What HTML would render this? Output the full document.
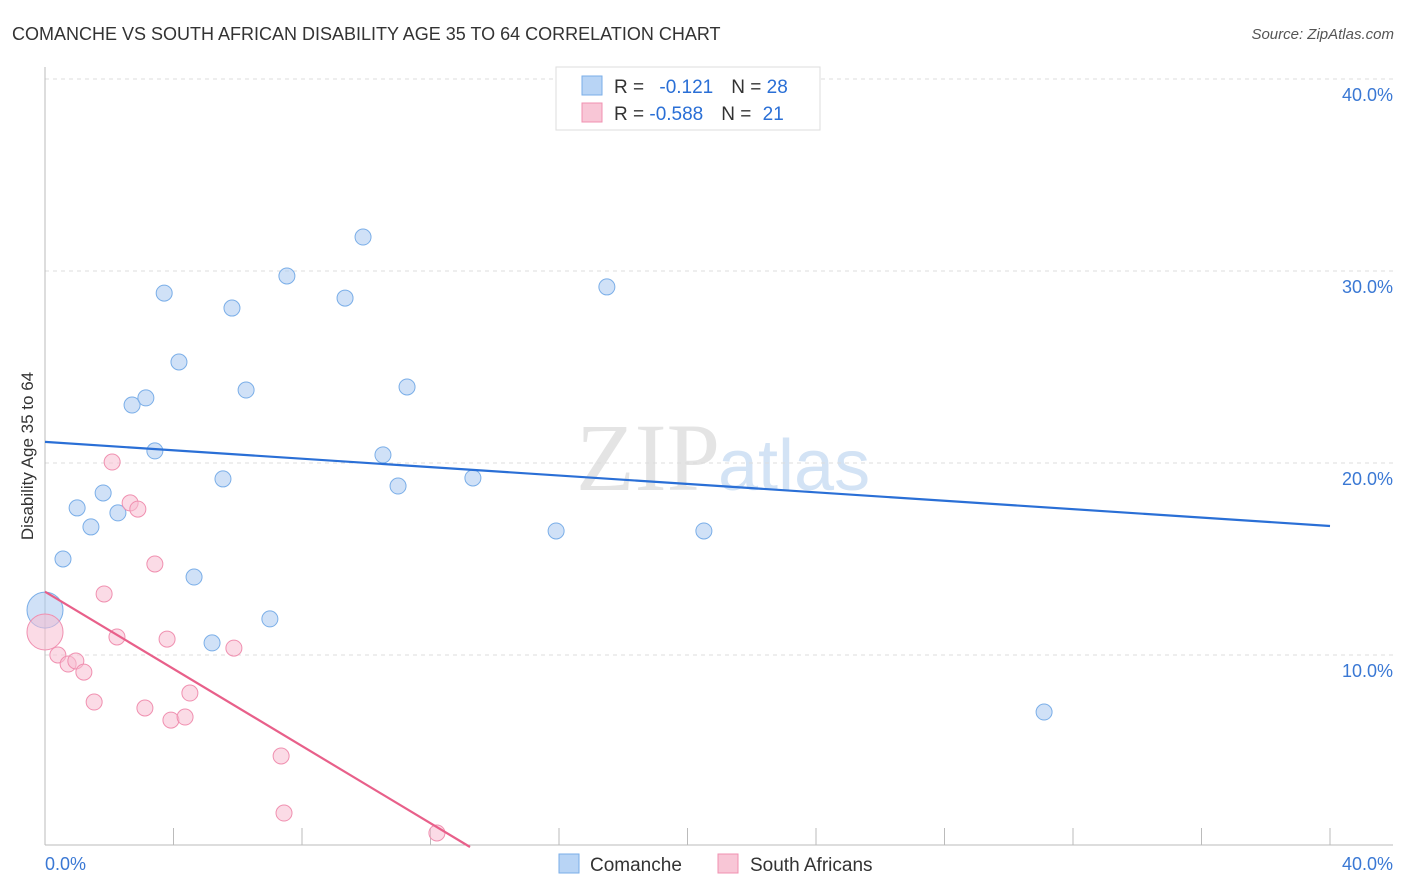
<!DOCTYPE html>
<html><head><meta charset="utf-8"><style>
body{margin:0;background:#fff;font-family:"Liberation Sans",sans-serif;}
svg{display:block}
</style></head><body>
<svg id="chart" width="1406" height="892">
<text x="12" y="40" font-size="18" fill="#333">COMANCHE VS SOUTH AFRICAN DISABILITY AGE 35 TO 64 CORRELATION CHART</text>
<text x="1394" y="39" font-size="15" fill="#555" text-anchor="end" font-style="italic">Source: ZipAtlas.com</text>
<text x="720" y="490" font-size="96" fill="#e4e4e4" text-anchor="end" font-family="Liberation Serif">ZIP</text>
<text x="718" y="490" font-size="72" fill="#d3e3f5">atlas</text>
<g id="grid"></g>
<g id="axes"></g>
<g id="marks"></g>
<text transform="translate(33,456) rotate(-90)" font-size="17" fill="#333" text-anchor="middle">Disability Age 35 to 64</text>
<text x="45" y="870" font-size="18" fill="#3a78d4">0.0%</text>
<text x="1393" y="870" font-size="18" fill="#3a78d4" text-anchor="end">40.0%</text>
<g>
<rect x="556" y="67" width="264" height="63" fill="#fff" stroke="#ddd"/>
<rect x="582" y="76" width="20" height="19" fill="#b8d4f5" stroke="#7aaee8"/>
<rect x="582" y="103" width="20" height="19" fill="#f8c6d6" stroke="#f090b0"/>
<text x="614" y="93" font-size="19" fill="#333">R = <tspan fill="#2a6fd6" dx="10">-0.121</tspan><tspan dx="18" fill="#333">N = </tspan><tspan fill="#2a6fd6">28</tspan></text>
<text x="614" y="120" font-size="19" fill="#333">R = <tspan fill="#2a6fd6">-0.588</tspan><tspan dx="18" fill="#333">N = </tspan><tspan fill="#2a6fd6" dx="6">21</tspan></text>
</g>
<g>
<rect x="559" y="854" width="20" height="19" fill="#b8d4f5" stroke="#7aaee8"/>
<text x="590" y="871" font-size="19" fill="#333">Comanche</text>
<rect x="718" y="854" width="20" height="19" fill="#f8c6d6" stroke="#f090b0"/>
<text x="750" y="871" font-size="19" fill="#333">South Africans</text>
</g>
</svg>
<script>
const yTicks=[10,20,30,40];
const yTickLabels=["10.0%","20.0%","30.0%","40.0%"];
const xTicks=[0,4,8,12,16,20,24,28,32,36,40];
const comancheX=[0,0.56,1.0,1.43,1.81,2.27,2.71,3.14,3.42,3.71,4.17,4.64,5.2,5.54,5.82,6.26,7.0,7.53,9.34,9.9,10.52,10.99,11.27,13.32,15.91,17.49,20.51,31.1];
const comancheY=[12.34,15.0,17.66,16.67,18.44,17.4,23.02,23.39,20.63,28.85,25.26,14.06,10.63,19.17,28.07,23.8,11.88,29.74,28.59,31.77,20.42,18.8,23.96,19.22,16.46,29.17,16.46,7.03];
const southX=[0,0.4,0.72,0.96,1.21,1.53,1.84,2.09,2.24,2.65,2.89,3.11,3.42,3.8,3.92,4.36,4.51,5.88,7.35,7.44,12.2];
const southY=[11.2,10.0,9.53,9.69,9.11,7.55,13.18,20.05,10.94,17.92,17.6,7.24,14.74,10.83,6.61,6.77,8.02,10.36,4.74,1.77,0.73];
const comancheTrendX=[0,40];
const comancheTrendY=[21.1,16.72];
const southTrendX=[0,13.23];
const southTrendY=[13.3,0];
const NS="http://www.w3.org/2000/svg";
const xs=v=>45+v*32.125;
const ys=v=>847-v*19.2;
function mk(tag,attrs,parent){const e=document.createElementNS(NS,tag);for(const k in attrs)e.setAttribute(k,attrs[k]);document.getElementById(parent).appendChild(e);return e;}
yTicks.forEach((t,i)=>{
 const g=mk('line',{x1:45,x2:1393,y1:ys(t),y2:ys(t),stroke:'#ddd','stroke-dasharray':'4,4'},'grid');
 
 
 const l=mk('text',{x:1393,y:ys(t)+22,'font-size':18,fill:'#3a78d4','text-anchor':'end'},'grid');
 l.textContent=yTickLabels[i];
 
 
});
const ya=mk('line',{x1:45,x2:45,y1:67,y2:845,stroke:'#bbb'},'axes');


const xa=mk('line',{x1:45,x2:1393,y1:845,y2:845,stroke:'#bbb'},'axes');


xTicks.forEach(t=>{
 const tk=mk('line',{x1:xs(t),x2:xs(t),y1:828,y2:845,stroke:'#bbb'},'axes');
 
 
});
comancheX.forEach((x,i)=>{
 const c=mk('circle',{cx:xs(x),cy:ys(comancheY[i]),r:i===0?18:8,fill:'rgba(170,200,240,0.55)',stroke:'#7aaee8','stroke-width':1},'marks');
 
 
});
southX.forEach((x,i)=>{
 const c=mk('circle',{cx:xs(x),cy:ys(southY[i]),r:i===0?18:8,fill:'rgba(248,190,210,0.55)',stroke:'#f090b0','stroke-width':1},'marks');
 
 
});
const bl=mk('line',{x1:xs(comancheTrendX[0]),y1:ys(comancheTrendY[0]),x2:xs(comancheTrendX[1]),y2:ys(comancheTrendY[1]),stroke:'#2a6fd6','stroke-width':2.2},'marks');


const pl=mk('line',{x1:xs(southTrendX[0]),y1:ys(southTrendY[0]),x2:xs(southTrendX[1]),y2:ys(southTrendY[1]),stroke:'#e8608a','stroke-width':2.2},'marks');


</script>
</body></html>
